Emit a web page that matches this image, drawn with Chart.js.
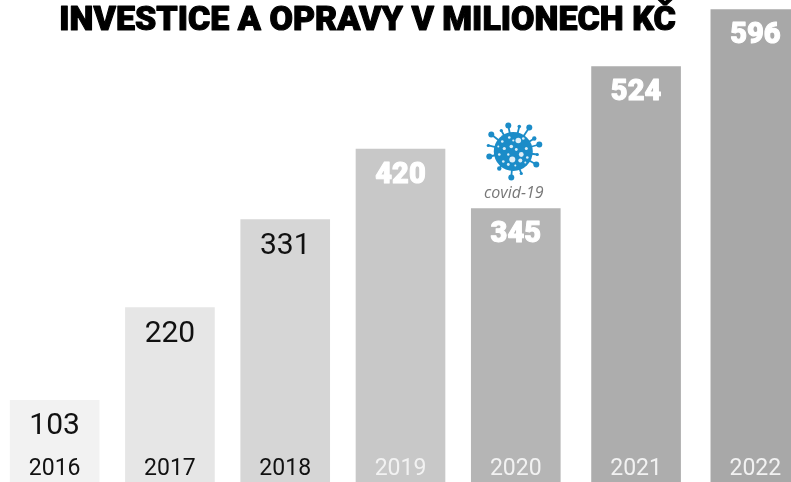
<!DOCTYPE html>
<html><head><meta charset="utf-8">
<script src="https://cdn.jsdelivr.net/npm/chart.js@4"></script>
<style>html,body{margin:0;padding:0;background:#fff;overflow:hidden;width:791px;height:482px}
canvas{position:absolute;left:-3px;top:0}</style></head>
<body><canvas id="c" width="807" height="482"></canvas>
<script>
const TITLE = 'INVESTICE A OPRAVY V MILIONECH KČ';
const categories = ['2016','2017','2018','2019','2020','2021','2022'];
const values = [103,220,331,420,345,524,596];
const barColors = ['#f2f2f2','#e6e6e6','#d6d6d6','#c8c8c8','#b5b5b5','#adadad','#a8a8a8'];
const labelColors = ['#111','#111','#111','#fff','#fff','#fff','#fff'];
const labelWeights = [400,400,400,900,900,900,900];
const yearColors = ['#111','#111','#111','#f2f2f2','#f2f2f2','#f2f2f2','#f2f2f2'];
const slotShift = [0,0,0,0,0,5,9];
const NOTE = 'covid-19';
const NOTE_INDEX = 4;

class ShiftedCategory extends Chart.CategoryScale {
  getPixelForValue(v, i) {
    const k = typeof v === 'number' ? v : (i ?? 0);
    return super.getPixelForValue(v, i) + (slotShift[Math.round(k)] || 0);
  }
}
ShiftedCategory.id = 'shiftedCategory';
ShiftedCategory.defaults = Chart.CategoryScale.defaults;
Chart.register(ShiftedCategory);

const spikes = [[-5,-26,3],[16,-24,3],[-22,-17,3],[26,-7,3],[-24,5,3],[23,13,3],[-2,26,3],[-14,17,2.2],[6,-25,1.8],[21,-13,2.2],[-12,-21,1.6],[8,22,1.6],[-25,-6,1.6],[24,3,1.6]];
const holes = [[5,-11,2.8],[8,3,2.4],[-2,-5,1.8],[-9,-3,1.6],[-1,8,3],[7,9,2],[13,-3,1.5],[-11,-10,1.3],[-4,-14,1.3],[10,-13,1.3],[14,6,1.3],[-14,3,1.3],[3,-2,1.4],[-5,13,1.4],[-10,10,1.3],[-5,3,1.2],[0,-11,1.1],[-15,-5,1],[12,11,1],[2,14,1]];

const overlay = {
  id: 'overlay',
  afterDatasetsDraw(chart) {
    const ctx = chart.ctx, els = chart.getDatasetMeta(0).data;
    ctx.save();
    ctx.textAlign = 'center'; ctx.textBaseline = 'middle'; ctx.lineJoin = 'round';
    els.forEach((el, i) => {
      const heavy = labelWeights[i] > 400;
      ctx.font = labelWeights[i] + (heavy ? ' 29px' : ' 30px') + ' Roboto';
      ctx.fillStyle = ctx.strokeStyle = labelColors[i];
      ctx.fillText(String(values[i]), el.x, el.y + 26.5);
      if (heavy) { ctx.lineWidth = 1; ctx.strokeText(String(values[i]), el.x, el.y + 26.5); }
    });
    ctx.fillStyle = ctx.strokeStyle = '#000';
    ctx.font = '900 34px Roboto';
    ctx.lineWidth = 1.1;
    ctx.fillText(TITLE, 370.5, 21);
    ctx.strokeText(TITLE, 370.5, 21);
    const n = els[NOTE_INDEX];
    ctx.fillStyle = '#777';
    ctx.font = 'italic 16px "Open Sans"';
    ctx.fillText(NOTE, n.x - 2, n.y - 15);
    const cx = n.x - 2.5, cy = n.y - 57;
    ctx.strokeStyle = ctx.fillStyle = '#1b8cc8';
    ctx.lineWidth = 1.8;
    spikes.forEach(([dx, dy, r]) => {
      ctx.beginPath(); ctx.moveTo(cx, cy); ctx.lineTo(cx + dx, cy + dy); ctx.stroke();
      ctx.beginPath(); ctx.arc(cx + dx, cy + dy, r, 0, 7); ctx.fill();
    });
    ctx.beginPath(); ctx.arc(cx, cy, 19.5, 0, 7); ctx.fill();
    ctx.fillStyle = 'rgba(255,255,255,.85)';
    holes.forEach(([dx, dy, r]) => { ctx.beginPath(); ctx.arc(cx + dx, cy + dy, r, 0, 7); ctx.fill(); });
    ctx.restore();
  }
};

new Chart(document.getElementById('c'), {
  type: 'bar',
  data: { labels: categories, datasets: [{ data: values, backgroundColor: barColors, barThickness: 89, borderWidth: 0 }] },
  options: {
    responsive: false, animation: false,
    layout: { padding: 0 },
    plugins: { legend: { display: false }, tooltip: { enabled: false } },
    scales: {
      x: {
        type: 'shiftedCategory',
        grid: { display: false, drawTicks: false }, border: { display: false },
        afterFit(s) { s.height = 0; },
        ticks: { z: 2, mirror: true, padding: -1, maxRotation: 0, font: { family: 'Roboto', size: 23 },
                 color: c => yearColors[c.index] }
      },
      y: { display: false, min: 0, max: 608 }
    }
  },
  plugins: [overlay]
});
</script></body></html>
